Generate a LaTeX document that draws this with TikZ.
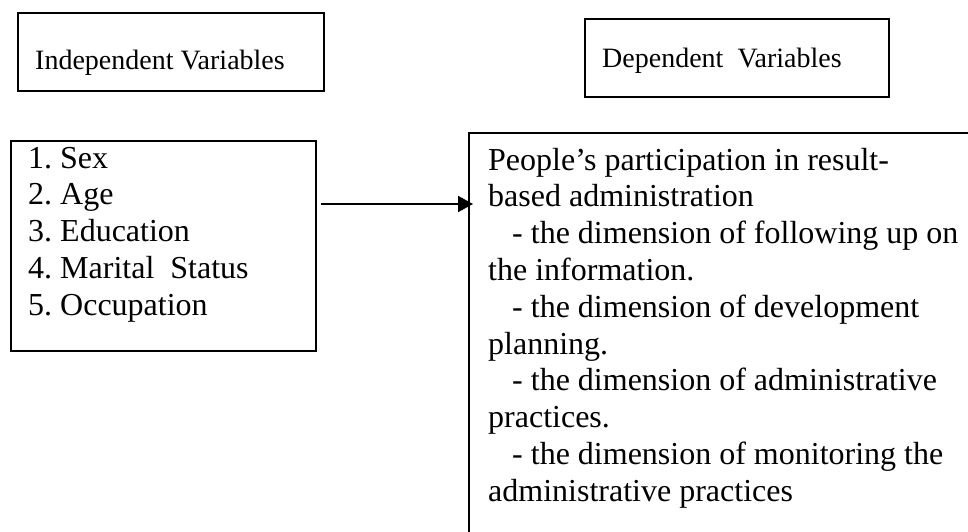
\documentclass[tikz,border=0pt]{standalone}
\usepackage{fontspec}
\setmainfont{Liberation Serif}
\usetikzlibrary{arrows.meta}
\frenchspacing
\begin{document}
\begin{tikzpicture}[x=1pt,y=1pt,
  frame/.style={draw=black, line width=1.6pt, rectangle, inner sep=0pt, anchor=north west},
  headtext/.style={anchor=base west, inner sep=0pt, font=\fontsize{28}{32}\selectfont},
  bodytext/.style={anchor=base west, inner sep=0pt, font=\fontsize{32}{36.8}\selectfont},
  link/.style={line width=1.7pt, -{Triangle[length=15pt,width=16pt]}}]
\useasboundingbox (0,0) rectangle (968,-532);
\begin{scope}
\clip (0,0) rectangle (968,-532);

% heading boxes
\node[frame, minimum width=306pt, minimum height=78pt] (indep) at (17,-12) {};
\node[headtext] (indeplabel) at (35,-70) {Independent Variables};

\node[frame, minimum width=304pt, minimum height=78pt] (dep) at (584,-18) {};
\node[headtext] (deplabel) at (602,-68) {Dependent\ \ Variables};

% list of independent variables
\node[frame, minimum width=305pt, minimum height=210pt] (list) at (10,-140) {};
\node[bodytext] (listtext) at (28,-168) {\parbox[t]{280pt}{\raggedright
1. Sex\\
2. Age\\
3. Education\\
4. Marital\ \ Status\\
5. Occupation}};

% outcome box, open towards the right and bottom edges
\node[frame, minimum width=560pt, minimum height=460pt] (outcome) at (468,-132) {};
\node[bodytext] (outcometext) at (488,-170) {\parbox[t]{478pt}{\raggedright
People’s participation in result-\\
based administration\\
\hspace*{24pt}- the dimension of following up on\\
the information.\\
\hspace*{24pt}- the dimension of development\\
planning.\\
\hspace*{24pt}- the dimension of administrative\\
practices.\\
\hspace*{24pt}- the dimension of monitoring the\\
administrative practices}};

% connector
\coordinate (arrowrow) at (0,-204);
\draw[link] ([xshift=4pt]list.east |- arrowrow) -- ([xshift=5pt]outcome.west |- arrowrow);
\end{scope}
\end{tikzpicture}
\end{document}
